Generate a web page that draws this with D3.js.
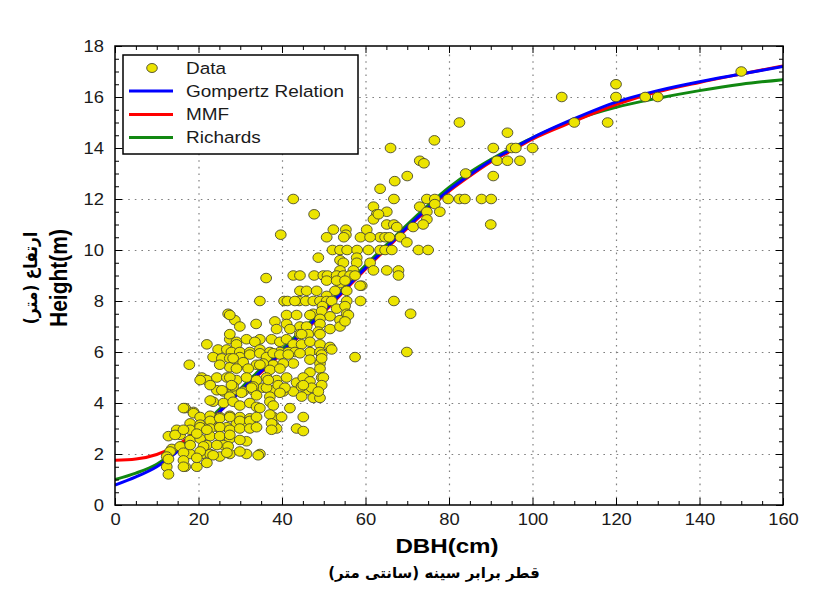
<!DOCTYPE html>
<html>
<head>
<meta charset="utf-8">
<script src="https://cdn.jsdelivr.net/npm/d3@7"></script>
<style>
body { margin: 0; background: #fff; }
svg { display: block; }
</style>
</head>
<body>
<svg id="chart"></svg>
<script>
const WIDTH = 814;
const HEIGHT = 604;
const PLOT = {left: 115, right: 783, top: 46, bottom: 505};
const STRETCH = 1.15; // the source picture is a bit wider than tall

const X_TICKS = [0, 20, 40, 60, 80, 100, 120, 140, 160];
const Y_TICKS = [0, 2, 4, 6, 8, 10, 12, 14, 16, 18];
const LEGEND_LABELS = ["Data", "Gompertz Relation", "MMF", "Richards"];
const CURVE_COLORS = {gompertz: "#0000ff", mmf: "#ff0000", richards: "#118811"};

// fitted curves at these DBH values
const CURVE_DBH = [0, 5, 10, 15, 20, 25, 30, 35, 40, 45, 50, 55, 60, 65, 70, 75, 80, 85, 90, 95, 100,
                   110, 120, 130, 140, 150, 160];
const GOMPERTZ = [0.78, 1.1, 1.5, 2.1, 2.85, 3.65, 4.45, 5.25, 6.0, 6.8, 7.6, 8.45, 9.3, 10.1, 10.9, 11.65,
                  12.35, 12.95, 13.5, 13.95, 14.4, 15.15, 15.8, 16.25, 16.6, 16.9, 17.2];
const MMF = [1.75, 1.8, 1.98, 2.35, 2.95, 3.65, 4.45, 5.2, 5.95, 6.75, 7.55, 8.4, 9.25, 10.05, 10.85, 11.6,
             12.3, 12.9, 13.45, 13.9, 14.35, 15.05, 15.7, 16.2, 16.57, 16.9, 17.22];
const RICHARDS = [1.0, 1.25, 1.6, 2.2, 2.95, 3.75, 4.55, 5.35, 6.1, 6.9, 7.7, 8.55, 9.4, 10.2, 11.0, 11.75,
                  12.45, 13.05, 13.55, 14.0, 14.4, 15.1, 15.6, 15.95, 16.25, 16.5, 16.68];

// observed trees: [DBH (cm), height (m)]
const TREES = [
    [150,17],[120,16.5],[120,16],[127,16],[130,16],[107,16],[118,15],[110,15],[82.5,15],[94,14.6],
    [76.5,14.3],[66,14],[90.6,14],[95,14],[96,14],[100,14],[91.5,13.5],[94,13.5],[97,13.5],[73,13.5],
    [74,13.4],[70,12.9],[67,12.7],[63.5,12.4],[84,13],[90.6,12.9],
    [42.7,12],[66.8,12],[74.7,12],[76.6,12],[79.8,12],[82.5,12],[83.8,12],[87.8,12],[90.1,12],[73,11.7],
    [76.6,11.8],[74.7,11.5],[77.8,11.5],[74.7,11.2],[47.7,11.4],[61.9,11.7],[62.7,11.4],[61.9,11.2],
    [65.1,11.5],[63.1,11.4],[65.1,11],[66.8,11],[67.5,10.9],[71.4,10.9],[73.8,11],[90,11],[60.3,10.8],
    [52.3,10.8],[55.3,10.8],[55.3,10.6],
    [39.7,10.6],[68.4,10.5],[69.9,10.3],[63.5,10.5],[64.7,10.5],[50.7,10.5],[54.8,10.5],[58.8,10.5],
    [61.1,10.5],[65.7,10.5],[52.1,10],[53.9,10],[55.6,10],[58,10],[60.7,10],[63.5,10],[64.7,10],[66.3,10],
    [72.7,10],[75,10],[65.1,9.2],[67.9,9.2],[67.9,9],
    [48.7,9.7],[53.9,9.6],[57.9,9.7],[57.9,9.5],[61.1,9.5],[54.7,9.5],[53.9,9.2],[57.1,9.2],[61.9,9.2],
    [36.2,8.9],
    [42.7,9],[44.3,9],[47.7,9],[49.9,9],[50.9,9],[53.1,9],[54.7,9],[56.3,9],[57.5,9],
    [59.1,8.6],[53.9,8.7],[55.5,8.4],[52.7,8.4],[44.3,8.4],[45.9,8.4],[48.3,8.4],[50.7,8.8],[53.1,8.8],
    [55.1,8.8],[58.7,8.6],[50.7,8.2],
    [34.7,8],[40.5,8],[41.3,8],[44.1,8],[45.7,8],[47.5,8],[49.1,8],[50.7,8],[51.9,8],[55.5,8],[58.8,8],
    [66.8,8],[43.1,8],
    [49.7,7.8],[53.1,7.7],[55.1,7.8],[47.5,7.5],[49.5,7.6],[51.5,7.4],[53.9,7.25],[55.5,7.5],[27.1,7.5],
    [28.7,7.25],[29.9,7],[33.8,7.1],[27.5,7.45],[38.3,7.2],[41.1,7.45],[43.5,7.45],[46.7,7.45],[49.1,7.3],
    [55.9,7.45],[70.8,7.5],[41.1,7.1],[38.7,6.9],[44.3,7],[45.9,7],[49.1,7.1],[51.5,6.9],[53.9,7],[55.1,7.2],
    [41.9,6.9],[44.3,6.7],[46.3,6.7],[48.7,6.8],[27.5,6.5],[29.1,6.4],[31.5,6.5],[34.7,6.5],[37.5,6.5],
    [39.5,6.4],[41.1,6.5],[42.7,6.3],[44.7,6.7],[44.7,6.3],[46.7,6.4],[49.1,6.7],[49.1,6.3],[51.5,6.2],
    [27.5,6.7],[22,6.3],[24.7,6.1],[26.8,6.1],[29.1,6.3],[33.5,6.4],[34.7,6.1],
    [27.9,6],[29.9,6],[32.3,6],[37.1,6],[39.5,6],[41.5,6],[43.1,6],[46.7,6],[49.1,6],[51.9,6.1],[69.9,6],
    [57.5,5.8],
    [49.5,5.9],[23.5,5.8],[25.6,5.75],[27.5,5.75],[29.9,5.8],[32.3,5.9],[34.7,5.95],[36.3,5.8],[37.9,5.95],
    [39.5,5.9],[41.5,5.9],[44.3,5.95],[49.1,5.55],[46.7,5.7],[42.7,5.55],[37.9,5.5],[33.9,5.5],[29.9,5.5],
    [27.5,5.4],[25.1,5.5],[28.3,5.75],[30.7,5.6],[35.5,5.55],[40.3,5.55],[49.5,5.75],[17.8,5.5],
    [29.1,5.35],[31.9,5.35],[34.7,5.5],[37.1,5.3],[39.5,5.35],[46.7,5.2],[49.1,5.35],[20.8,5],[22,4.9],
    [24.4,5],[26.8,5],[29.1,4.9],[31.5,5],[33.9,4.9],[36.3,5],[38.7,4.9],[41.1,5],[43.5,4.8],[45.1,5],
    [46.7,4.85],[49.5,5],[27.5,5],[49.9,5],
    [24.4,4.5],[26,4.45],[28.3,4.5],[30.7,4.45],[33.1,4.5],[35.5,4.6],[37.9,4.5],[40.3,4.45],[42.7,4.45],
    [45.9,4.5],[47.5,4.2],[49.1,4.2],[28.3,4.65],[33.1,4.65],[36.3,4.6],[39.1,4.7],[40.7,4.6],[44.7,4.65],
    [47.1,4.6],[49.5,4.7],[45.1,4.7],[48.7,4.45],[20.4,4.9],[22.8,4.7],[25.6,4.5],[27.9,4.7],[32.7,4.6],
    [36.7,4.9],
    [44.7,4.25],[27.5,4.25],[30.3,4.4],[33.9,4.3],[37.1,4.25],[39.5,4.4],[16.8,3.8],[18.8,3.65],[23.5,4.05],
    [26,4],[28.3,4.05],[29.9,3.9],[32.3,4],[33.9,3.85],[37.1,4.05],[37.9,3.9],[41.9,3.8],[45.1,3.45],
    [43.5,3],[37.9,3.45],[37.9,3.15],[38.7,3],[22.8,4.1],[34.7,3.8],
    [16.4,3.8],[18.8,3.6],[20.4,3.45],[22.8,3.5],[25.1,3.45],[27.5,3.5],[29.9,3.45],[32.3,3.4],[18,3.2],
    [20.4,3.15],[22.8,3.15],[24.7,3.05],[26.8,3.05],[29.1,3.2],[31.5,3.25],[37.1,3.55],[39.9,3.45],
    [37.5,3.2],[45.1,2.9],[14.8,2.95],[18,2.95],[20.4,3.05],[22.8,3.3],[25.1,3.4],[27.5,3.45],[29.9,3.3],
    [32.3,3.3],[33.9,3.45],[22.8,3],[25.1,3.05],[27.5,2.95],[29.9,3],[32.3,3],[33.9,3.05],
    [31.5,2.5],[12.8,2.7],[15.6,2.75],[18,2.55],[20.4,2.6],[22.8,2.7],[25.1,2.7],[27.5,2.6],[29.9,2.55],
    [26,2.35],[22,2.35],[14.4,2.75],[16.4,2.95],[19.6,2.8],[22,2.95],[27.5,2.75],[37.5,2.95],
    [13.6,2.2],[15.6,2.3],[18,2],[20.8,2],[22.8,2],[25.1,1.9],[27.5,2],[31.5,2],[34.7,2],[18,2.35],
    [21.2,2.3],[24.4,2.35],[27.1,2.3],[13.2,2.1],[16.4,2.05],[20.4,2.1],[23.5,1.95],[26.8,2.05],[29.9,2.1],
    [34.3,1.95],
    [12.4,1.9],[12.4,1.5],[12.8,1.2],[16.8,1.5],[19.6,1.5],[22,1.65],[16.4,1.75],[19.6,1.85],[16.4,1.5],
    [12.8,1.8]
];

const svg = d3.select("#chart")
    .attr("width", WIDTH)
    .attr("height", HEIGHT)
    .style("font-family", "'Liberation Sans', Arial, sans-serif");

const x = d3.scaleLinear().domain([0, 160]).range([PLOT.left, PLOT.right]);
const y = d3.scaleLinear().domain([0, 18]).range([PLOT.bottom, PLOT.top]);
const plotW = PLOT.right - PLOT.left;
const plotH = PLOT.bottom - PLOT.top;

svg.append("defs").append("clipPath").attr("id", "plotClip")
    .append("rect")
    .attr("x", PLOT.left).attr("y", PLOT.top)
    .attr("width", plotW).attr("height", plotH);

// dotted grid
function styleGrid(g) {
    g.select(".domain").remove();
    g.selectAll("line")
        .attr("stroke", "#808080")
        .attr("stroke-width", 1.2)
        .attr("stroke-dasharray", "1.6,5");
}
svg.append("g")
    .attr("transform", "translate(0," + PLOT.bottom + ")")
    .call(d3.axisBottom(x).tickValues(X_TICKS.slice(1, -1)).tickSize(-plotH).tickFormat(""))
    .call(styleGrid);
svg.append("g")
    .attr("transform", "translate(" + PLOT.left + ",0)")
    .call(d3.axisLeft(y).tickValues(Y_TICKS.slice(1, -1)).tickSize(-plotW).tickFormat(""))
    .call(styleGrid);

// curves, drawn under the points
const line = d3.line()
    .x((d, i) => x(CURVE_DBH[i]))
    .y(d => y(d))
    .curve(d3.curveMonotoneX);
const curves = svg.append("g").attr("clip-path", "url(#plotClip)");
[[RICHARDS, CURVE_COLORS.richards], [MMF, CURVE_COLORS.mmf], [GOMPERTZ, CURVE_COLORS.gompertz]]
    .forEach(([vals, color]) => {
        curves.append("path")
            .attr("d", line(vals))
            .attr("fill", "none")
            .attr("stroke", color)
            .attr("stroke-width", 3);
    });

// observed points
svg.append("g").attr("clip-path", "url(#plotClip)")
    .selectAll("ellipse")
    .data(TREES)
    .join("ellipse")
    .attr("cx", d => x(d[0]))
    .attr("cy", d => y(d[1]))
    .attr("rx", 5.4)
    .attr("ry", 4.8)
    .attr("fill", "#ece400")
    .attr("stroke", "#4a4a30")
    .attr("stroke-width", 0.9);

// ticks on all four sides, pointing inward
const xMinor = d3.range(0, 160.1, 5).filter(v => v % 20 !== 0);
const yMinor = d3.range(0, 18.01, 0.5).filter(v => v % 2 !== 0);

function styleTicks(g) {
    g.select(".domain").remove();
    g.selectAll("line").attr("stroke", "#000").attr("stroke-width", 1);
    g.selectAll("text")
        .attr("fill", "#1a1a1a")
        .style("font-size", "16px")
        .style("font-family", "'Liberation Sans', Arial, sans-serif");
}

const bottomAxis = svg.append("g")
    .attr("transform", "translate(0," + PLOT.bottom + ")")
    .call(d3.axisBottom(x).tickValues(X_TICKS).tickSize(-7).tickPadding(9))
    .call(styleTicks);
bottomAxis.selectAll("text").attr("transform", "scale(" + STRETCH + ",1)");
svg.append("g")
    .attr("transform", "translate(0," + PLOT.bottom + ")")
    .call(d3.axisBottom(x).tickValues(xMinor).tickSize(-4).tickFormat(""))
    .call(styleTicks);

svg.append("g")
    .attr("transform", "translate(0," + PLOT.top + ")")
    .call(d3.axisTop(x).tickValues(X_TICKS).tickSize(-7).tickFormat(""))
    .call(styleTicks);
svg.append("g")
    .attr("transform", "translate(0," + PLOT.top + ")")
    .call(d3.axisTop(x).tickValues(xMinor).tickSize(-4).tickFormat(""))
    .call(styleTicks);

const leftAxis = svg.append("g")
    .attr("transform", "translate(" + PLOT.left + ",0)")
    .call(d3.axisLeft(y).tickValues(Y_TICKS).tickSize(-7).tickPadding(9.5))
    .call(styleTicks);
leftAxis.selectAll("text").attr("transform", "scale(" + STRETCH + ",1)");
svg.append("g")
    .attr("transform", "translate(" + PLOT.left + ",0)")
    .call(d3.axisLeft(y).tickValues(yMinor).tickSize(-4).tickFormat(""))
    .call(styleTicks);

svg.append("g")
    .attr("transform", "translate(" + PLOT.right + ",0)")
    .call(d3.axisRight(y).tickValues(Y_TICKS).tickSize(-7).tickFormat(""))
    .call(styleTicks);
svg.append("g")
    .attr("transform", "translate(" + PLOT.right + ",0)")
    .call(d3.axisRight(y).tickValues(yMinor).tickSize(-4).tickFormat(""))
    .call(styleTicks);

// frame
svg.append("rect")
    .attr("x", PLOT.left).attr("y", PLOT.top)
    .attr("width", plotW).attr("height", plotH)
    .attr("fill", "none")
    .attr("stroke", "#000")
    .attr("stroke-width", 1.5);

// axis titles
svg.append("text")
    .attr("transform", "translate(447,546) scale(" + STRETCH + ",1)")
    .attr("text-anchor", "middle")
    .attr("dominant-baseline", "central")
    .style("font-size", "21px")
    .style("font-weight", "bold")
    .text("DBH(cm)");
svg.append("text")
    .attr("x", 434).attr("y", 573)
    .attr("text-anchor", "middle")
    .attr("dominant-baseline", "central")
    .style("font-family", "'DejaVu Sans', sans-serif")
    .style("font-size", "15px")
    .style("font-weight", "bold")
    .attr("direction", "rtl")
    .text("قطر برابر سینه (سانتی متر)");

svg.append("text")
    .attr("transform", "translate(59,278) rotate(-90) scale(1," + STRETCH + ")")
    .attr("text-anchor", "middle")
    .attr("dominant-baseline", "central")
    .style("font-size", "21px")
    .style("font-weight", "bold")
    .text("Height(m)");
svg.append("text")
    .attr("transform", "translate(31,278) rotate(-90) scale(1," + STRETCH + ")")
    .attr("text-anchor", "middle")
    .attr("dominant-baseline", "central")
    .style("font-family", "'DejaVu Sans', sans-serif")
    .style("font-size", "15.5px")
    .style("font-weight", "bold")
    .attr("direction", "rtl")
    .text("ارتفاع (متر)");

// legend
const legend = svg.append("g");
legend.append("rect")
    .attr("x", 123).attr("y", 55)
    .attr("width", 235).attr("height", 99)
    .attr("fill", "#fff")
    .attr("stroke", "#000")
    .attr("stroke-width", 1.5);
const legendRows = [68, 91, 114.5, 137.5];
const legendColors = [null, CURVE_COLORS.gompertz, CURVE_COLORS.mmf, CURVE_COLORS.richards];
LEGEND_LABELS.forEach((label, i) => {
    const ly = legendRows[i];
    if (i === 0) {
        legend.append("ellipse")
            .attr("cx", 152).attr("cy", ly)
            .attr("rx", 5.3).attr("ry", 4.5)
            .attr("fill", "#ece400")
            .attr("stroke", "#4a4a30")
            .attr("stroke-width", 0.9);
    } else {
        legend.append("line")
            .attr("x1", 129).attr("x2", 173)
            .attr("y1", ly).attr("y2", ly)
            .attr("stroke", legendColors[i])
            .attr("stroke-width", 3);
    }
    legend.append("text")
        .attr("transform", "translate(186," + ly + ") scale(" + STRETCH + ",1)")
        .attr("dominant-baseline", "central")
        .attr("fill", "#1a1a1a")
        .style("font-size", "16.5px")
        .text(label);
});
</script>
</body>
</html>
